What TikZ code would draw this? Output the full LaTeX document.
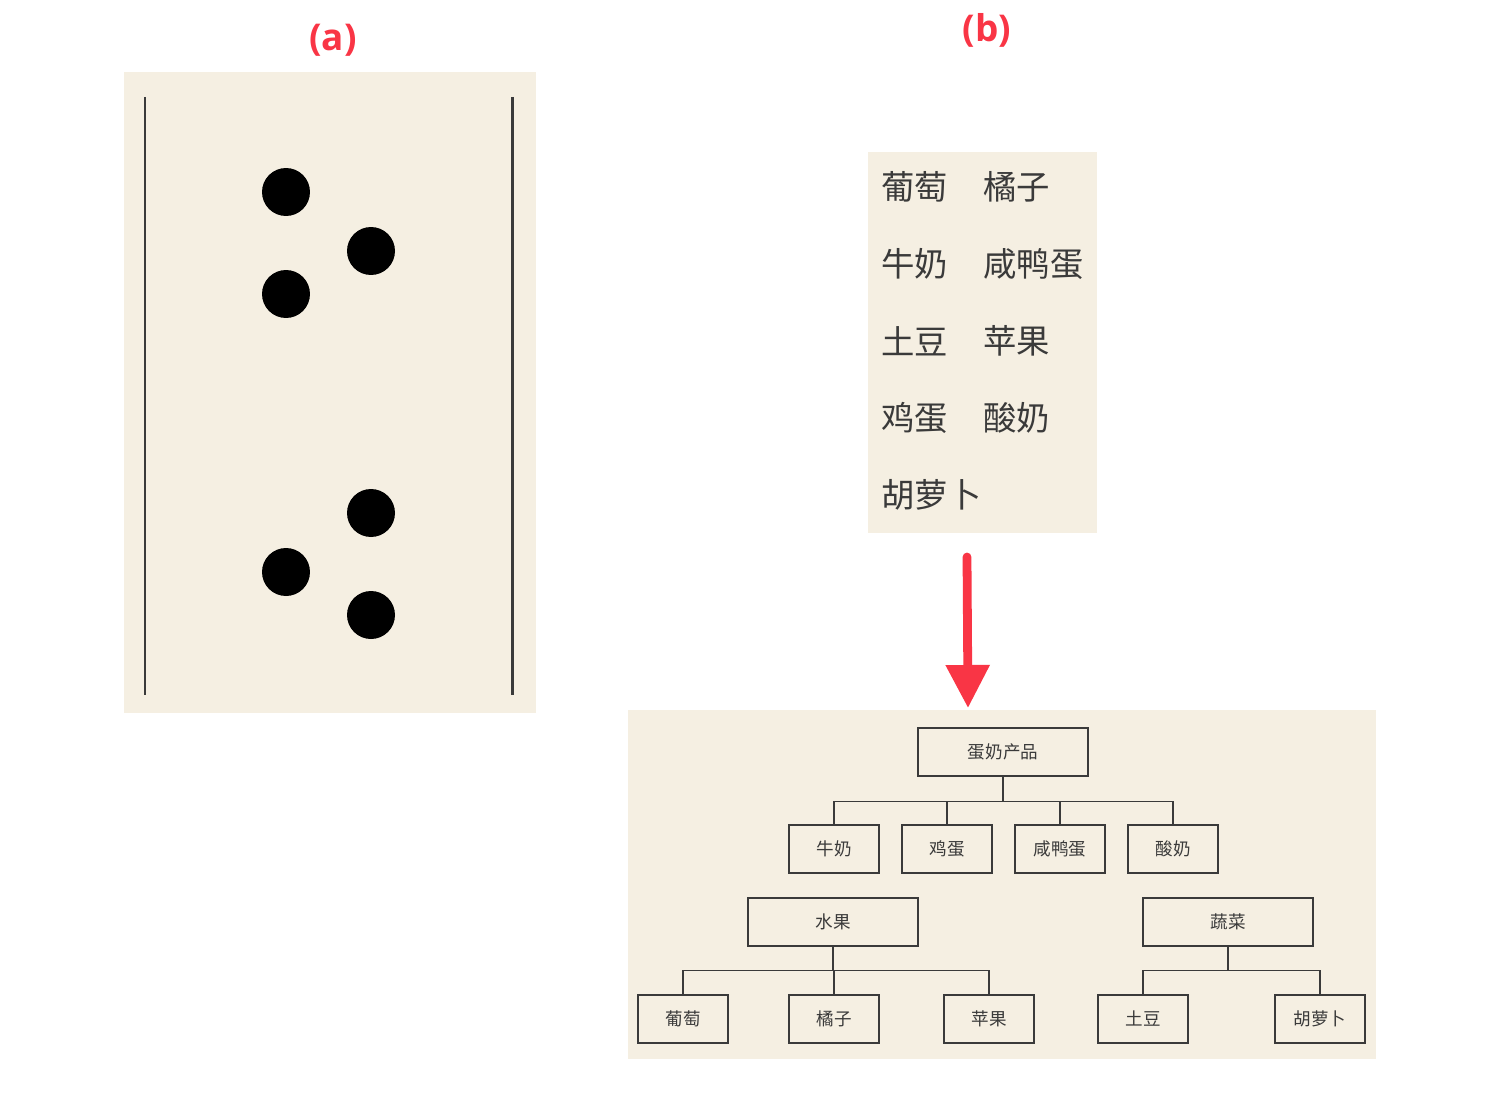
\documentclass[tikz,border=0pt]{standalone}
\usepackage{fontspec}
\setmainfont{Noto Sans CJK SC}
\newfontfamily\labelfont{Open Sans}
\usetikzlibrary{arrows.meta}
\definecolor{paper}{HTML}{F5EFE2}
\definecolor{tagred}{HTML}{F93545}
\definecolor{ink}{HTML}{3A3A3A}
\tikzset{
  tag/.style={text=tagred, font=\labelfont\bfseries\fontsize{21}{21}\selectfont},
  word/.style={anchor=west, inner sep=0pt, text=ink, font=\fontsize{19}{19}\selectfont},
  itembox/.style={draw=ink, line width=0.8pt, inner sep=0pt, minimum width=1.8cm, minimum height=0.96cm, text=ink, font=\fontsize{10}{10}\selectfont},
  catbox/.style={itembox, minimum width=3.4cm},
  dot/.style={circle, fill=black, minimum size=0.96cm, inner sep=0pt},
  link/.style={draw=ink, line width=0.8pt},
}

\begin{document}
\begin{tikzpicture}[x=0.02cm, y=-0.02cm]
    \useasboundingbox[fill=white](0,0) rectangle (1497,1095);

    % (a)
    \node[tag] (taga) at (333,40) {(a)};
    \fill[paper](124,72) rectangle (536,713);
    \draw[ink, line width=1.7pt](145,97)--(145,695);
    \draw[ink, line width=1.7pt](512,97)--(512,695);
    \node[dot] (d1) at (286,192) {};
    \node[dot] (d2) at (371,251) {};
    \node[dot] (d3) at (286,294) {};
    \node[dot] (d4) at (371,513) {};
    \node[dot] (d5) at (286,572) {};
    \node[dot] (d6) at (371,615) {};

    % (b)
    \node[tag] (tagb) at (987,30) {(b)};
    \fill[paper](868,152) rectangle (1097,533);
    \node[word] (w1) at (881,187) {葡萄};
    \node[word] (w2) at (983,187) {橘子};
    \node[word] (w3) at (881,264) {牛奶};
    \node[word] (w4) at (983,264) {咸鸭蛋};
    \node[word] (w5) at (881,341) {土豆};
    \node[word] (w6) at (983,341) {苹果};
    \node[word] (w7) at (881,418) {鸡蛋};
    \node[word] (w8) at (983,418) {酸奶};
    \node[word] (w9) at (881,495) {胡萝卜};

    \coordinate (arrtop) at (967,557);
    \coordinate (arrtip) at (968,708);
    \draw[tagred, line width=5pt, line cap=round, -{Triangle[width=0.84cm, length=0.86cm]}](arrtop)--(arrtip);

    \fill[paper](628,710) rectangle (1376,1059);
    \node[catbox] (dairy) at (1003,752) {蛋奶产品};
    \node[itembox] (milk) at (834,849) {牛奶};
    \node[itembox] (egg) at (947,849) {鸡蛋};
    \node[itembox] (duck) at (1060,849) {咸鸭蛋};
    \node[itembox] (yogurt) at (1173,849) {酸奶};
    \node[catbox] (fruit) at (833,922) {水果};
    \node[catbox] (veg) at (1228,922) {蔬菜};
    \node[itembox] (grape) at (683,1019) {葡萄};
    \node[itembox] (orange) at (834,1019) {橘子};
    \node[itembox] (apple) at (989,1019) {苹果};
    \node[itembox] (potato) at (1143,1019) {土豆};
    \node[itembox] (carrot) at (1320,1019) {胡萝卜};

    \foreach \c in {milk,egg,duck,yogurt}
        \draw[link](dairy.south)--++(0,25)-|(\c.north);
    \foreach \c in {grape,orange,apple}
        \draw[link](fruit.south)--++(0,24)-|(\c.north);
    \foreach \c in {potato,carrot}
        \draw[link](veg.south)--++(0,24)-|(\c.north);
\end{tikzpicture}
\end{document}
